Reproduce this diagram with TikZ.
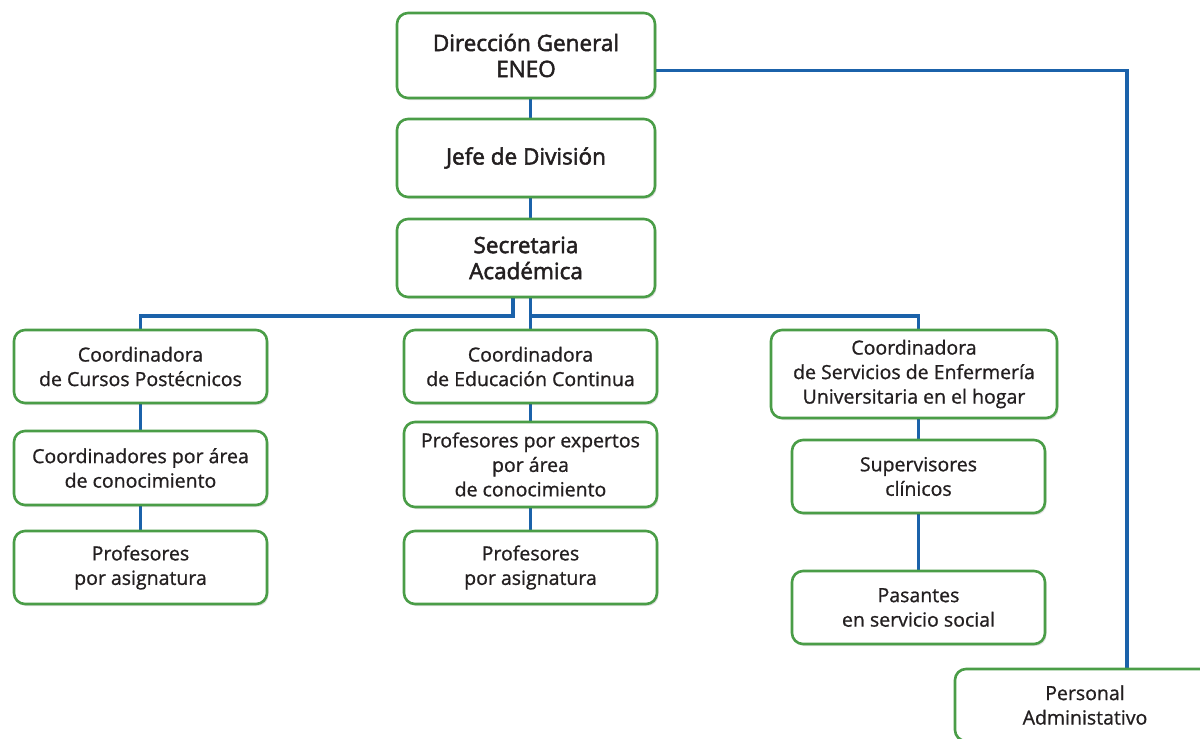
\documentclass[tikz,border=0pt]{standalone}
\usepackage{fontspec}
\setmainfont[FakeBold=0.9]{Open Sans}
\newfontfamily\topfont[FakeBold=2.2]{Open Sans}
\usetikzlibrary{calc,shadows,backgrounds}
\definecolor{bx}{HTML}{4A9D47}
\definecolor{ln}{HTML}{1B62AA}
\definecolor{tx}{HTML}{231F20}
\begin{document}
\begin{tikzpicture}[x=1pt,y=-1pt,
  box/.style={draw=bx, line width=2.6pt, rounded corners=11pt, fill=white, align=center,
    font=\fontsize{19.5}{24.5}\selectfont, text=tx, inner sep=0pt,
    drop shadow={shadow xshift=1.5pt, shadow yshift=-2pt, opacity=0.12, fill=black}},
  topbox/.style={box, font=\topfont\fontsize{22.5}{26}\selectfont},
  conn/.style={draw=ln, line width=3.2pt}]
\useasboundingbox (0,0) rectangle (1200,739);
\node[topbox, minimum width=258pt, minimum height=85pt] (dg) at (526,55.5) {Dirección General\\ENEO};
\node[topbox, minimum width=258pt, minimum height=78pt] (jd) at (526,158) {Jefe de División};
\node[topbox, minimum width=258pt, minimum height=78pt] (sa) at (526,258) {Secretaria\\Académica};
\node[box, minimum width=253pt, minimum height=73pt] (c1) at (140.5,366.5) {Coordinadora\\de Cursos Postécnicos};
\node[box, minimum width=253pt, minimum height=74pt] (a1) at (140.5,468) {Coordinadores por área\\de conocimiento};
\node[box, minimum width=253pt, minimum height=73pt] (p1) at (140.5,567.5) {Profesores\\por asignatura};
\node[box, minimum width=253pt, minimum height=73pt] (c2) at (530.5,366.5) {Coordinadora\\de Educación Continua};
\node[box, minimum width=253pt, minimum height=85pt] (a2) at (530.5,464.5) {Profesores por expertos\\por área\\de conocimiento};
\node[box, minimum width=253pt, minimum height=73pt] (p2) at (530.5,567.5) {Profesores\\por asignatura};
\node[box, minimum width=286pt, minimum height=88pt] (c3) at (914,374) {Coordinadora\\de Servicios de Enfermería\\Universitaria en el hogar};
\node[box, minimum width=253pt, minimum height=73pt] (s3) at (918.5,476.5) {Supervisores\\clínicos};
\node[box, minimum width=253pt, minimum height=73pt] (ps) at (918.5,607.5) {Pasantes\\en servicio social};
\node[box, minimum width=260pt, minimum height=72pt] (pa) at (1085,705) {Personal\\Administativo};
\coordinate (bl) at (0,316);
\begin{scope}[on background layer]
\draw[conn] (dg.south -| c2.north) -- (jd.north -| c2.north);
\draw[conn] (jd.south -| c2.north) -- (sa.north -| c2.north);
\draw[conn] (sa.south -| c2.north) -- (c2.north);
\draw[conn] ($(sa.south)+(-13,0)$) |- (bl -| c1.north) -- (c1.north);
\draw[conn] (bl -| c2.north) -| (c3.north -| s3.north);
\draw[conn] (c3.south -| s3.north) -- (s3.north);
\draw[conn] (s3.south) -- (ps.north);
\draw[conn] (c1.south) -- (a1.north);
\draw[conn] (a1.south) -- (p1.north);
\draw[conn] (c2.south) -- (a2.north);
\draw[conn] (a2.south) -- (p2.north);
\draw[conn] ($(dg.east)+(0,15)$) -| ($(pa.north)+(42,0)$);
\end{scope}
\end{tikzpicture}
\end{document}
